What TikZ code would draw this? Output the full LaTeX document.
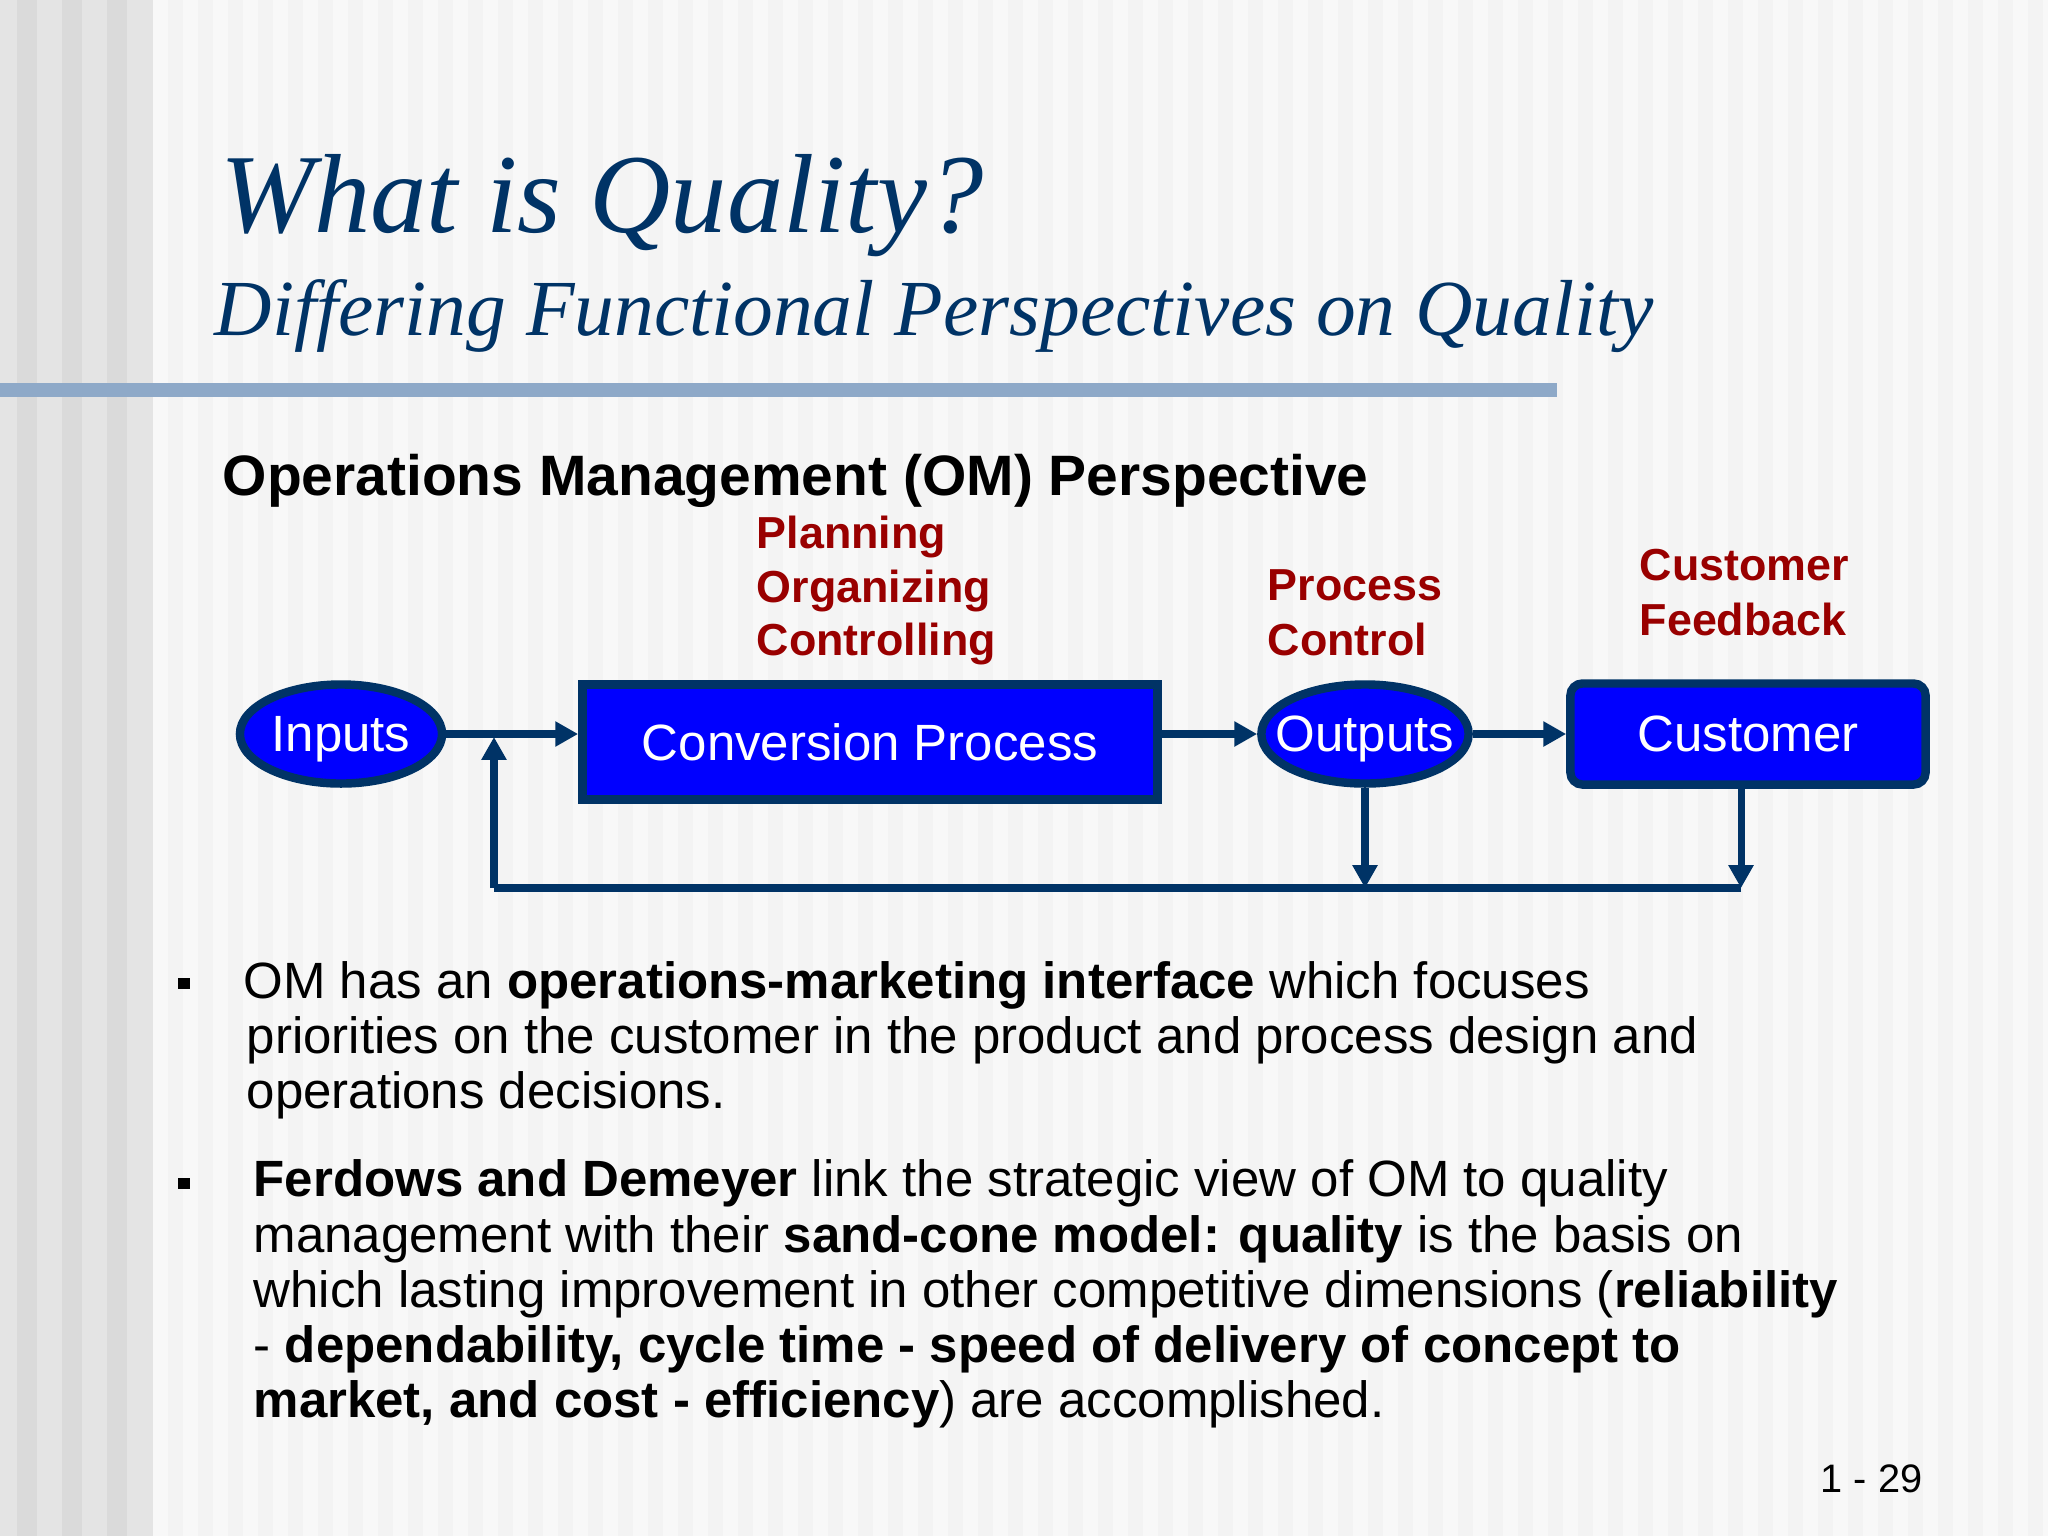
\documentclass[tikz,border=0pt]{standalone}
\usepackage{fontspec}
\setmainfont{Liberation Sans}
\newfontfamily\serifit{Liberation Serif}
\usetikzlibrary{shapes.geometric,arrows.meta}
\definecolor{navy}{RGB}{0,51,102}
\definecolor{dred}{RGB}{153,0,0}
\definecolor{pblue}{RGB}{0,0,255}
\definecolor{barblue}{RGB}{142,169,200}
\definecolor{bgA}{RGB}{243,243,243}
\definecolor{bgB}{RGB}{248,248,248}
\definecolor{bgC}{RGB}{228,228,228}
\definecolor{bgD}{RGB}{218,218,218}
\tikzset{
  shapebox/.style={draw=navy,fill=pblue,line width=2.4pt,text=white,font=\fontsize{14.5}{17}\selectfont,inner sep=0pt},
  ovalnode/.style={shapebox,ellipse,text depth=0pt,inner xsep=-0.16cm,minimum width=2.02cm,minimum height=0.99cm},
  flow/.style={draw=navy,line width=2pt,-{Triangle[length=6.5pt,width=6.8pt]}},
  flowline/.style={draw=navy,line width=2pt},
  redlabel/.style={anchor=base west,inner sep=0pt,text=dred,font=\fontsize{12.75}{15}\selectfont\bfseries},
  bodyline/.style={anchor=base west,inner sep=0pt,font=\fontsize{14.5}{17}\selectfont},
  bulletmark/.style={fill=black,minimum size=0.11cm,inner sep=0pt}
}
\begin{document}
\begin{tikzpicture}[x=0.01cm,y=-0.01cm]
\useasboundingbox (0,0) rectangle (2048,1536);
% background
\fill[bgA] (0,0) rectangle (2048,1536);
\foreach \s in {153,183,...,2048} {\fill[bgB] (\s,0) rectangle (\s+15,1536);}
\fill[bgC] (0,0) rectangle (153,1536);
\foreach \s in {17,62,107} {\fill[bgD] (\s,0) rectangle (\s+20,1536);}
% title bar
\fill[barblue] (0,383) rectangle (1557,397);
% titles
\node[anchor=base west,inner sep=0pt,text=navy,font=\fontsize{32}{36}\selectfont\serifit\itshape] (title) at (220,232) {What is Quality?};
\node[anchor=base west,inner sep=0pt,text=navy,font=\fontsize{22.6}{26}\selectfont\serifit\itshape] (subtitle) at (214,335) {Differing Functional Perspectives on Quality};
\node[anchor=base west,inner sep=0pt,font=\fontsize{16.2}{19}\selectfont\bfseries] (heading) at (222,495) {Operations Management (OM) Perspective};
% red labels
\node[redlabel] (pl1) at (756,548) {Planning};
\node[redlabel] (pl2) at (756,602) {Organizing};
\node[redlabel] (pl3) at (756,655) {Controlling};
\node[redlabel] (pc1) at (1267,600) {Process};
\node[redlabel] (pc2) at (1267,655) {Control};
\node[redlabel] (cf1) at (1639,580) {Customer};
\node[redlabel] (cf2) at (1639,635) {Feedback};
% diagram nodes
\node[ovalnode] (inputs) at (341,734) {Inputs};
\node[shapebox,minimum width=5.75cm,minimum height=1.15cm] (conv) at (870,742) {Conversion Process};
\node[ovalnode] (outputs) at (1365,734) {Outputs};
\node[shapebox,rounded corners=0.12cm,minimum width=3.55cm,minimum height=1.01cm] (cust) at (1748,734) {Customer};
% feedback coordinates
\coordinate (fbo) at (1365,888);
\coordinate (fbc) at (1741,888);
\coordinate (fbl) at (494,888);
\coordinate (fbt) at (494,737);
\coordinate (custb) at (1741,788);
% connectors
\draw[flowline] (fbc) -- (fbl);
\draw[flow] (fbl) -- (fbt);
\draw[flow] (inputs.east) -- (conv.west |- inputs.east);
\draw[flow] (conv.east |- outputs.west) -- (outputs.west);
\draw[flow] (outputs.east) -- (cust.west);
\draw[flow] (outputs.south) -- (fbo);
\draw[flow] (custb) -- (fbc);
% bullets
\node[bulletmark] (b1) at (184,983) {};
\node[bulletmark] (b2) at (184,1183) {};
\node[bodyline] (t11) at (243,998) {OM has an \textbf{operations-marketing interface} which focuses};
\node[bodyline] (t12) at (246,1053) {priorities on the customer in the product and process design and};
\node[bodyline] (t13) at (246,1108) {operations decisions.};
\node[bodyline] (t21) at (253,1196) {\textbf{Ferdows and Demeyer} link the strategic view of OM to quality};
\node[bodyline] (t22) at (253,1252) {management with their \textbf{sand-cone model: quality} is the basis on};
\node[bodyline] (t23) at (253,1307) {which lasting improvement in other competitive dimensions (\textbf{reliability}};
\node[bodyline] (t24) at (253,1362) {- \textbf{dependability, cycle time - speed of delivery of concept to}};
\node[bodyline] (t25) at (253,1417) {\textbf{market, and cost - efficiency}) are accomplished.};
% page number
\node[anchor=base east,inner sep=0pt,font=\fontsize{11.3}{13}\selectfont] (pagenum) at (1923,1492) {1 - 29};
\end{tikzpicture}
\end{document}
